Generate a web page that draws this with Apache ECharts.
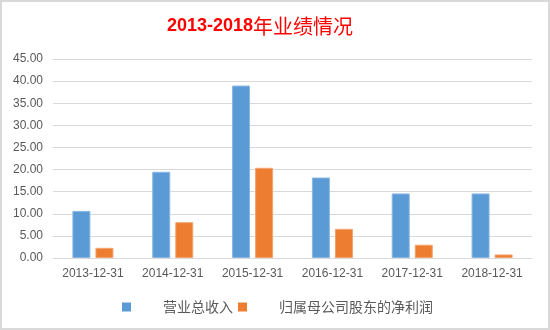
<!DOCTYPE html>
<html>
<head>
<meta charset="utf-8">
<script src="https://cdn.jsdelivr.net/npm/echarts@6/dist/echarts.min.js"></script>
<style>
html,body{margin:0;padding:0;background:#fff;}
#c{width:550px;height:330px;box-sizing:border-box;border:2px solid #d9d9d9;}
</style>
</head>
<body>
<div id="c"></div>
<script>
const categories = ['2013-12-31','2014-12-31','2015-12-31','2016-12-31','2017-12-31','2018-12-31'];
const revenue = [10.65, 19.5, 39.0, 18.2, 14.6, 14.6];
const netProfit = [2.3, 8.1, 20.4, 6.6, 3.0, 0.8];
const seriesNames = ['营业总收入','归属母公司股东的净利润'];
const yTicks = {min: 0, max: 45, interval: 5};

const chart = echarts.init(document.getElementById('c'));
chart.setOption({
  animation: false,
  title: {
    text: '{a|2013-2018}{b|年业绩情况}',
    left: 160, top: 9,
    textStyle: {
      rich: {
        a: {fontFamily: 'Liberation Sans, Noto Sans', fontWeight: 'bold', fontSize: 18, color: '#ff0000'},
        b: {fontFamily: 'Noto Sans CJK SC', fontWeight: 'normal', fontSize: 20, color: '#ff0000'}
      }
    }
  },
  legend: {
    left: 115, top: 293,
    itemWidth: 9, itemHeight: 9, itemGap: 5,
    icon: 'rect',
    itemStyle: {borderWidth: 0},
    textStyle: {fontFamily: 'Noto Sans CJK SC', fontSize: 14, color: '#595959', padding: [0,0,0,27]},
    data: seriesNames
  },
  grid: {left: 51, right: 16, top: 57, bottom: 70, containLabel: false},
  xAxis: {
    type: 'category',
    data: categories,
    axisTick: {show: false},
    axisLine: {lineStyle: {color: '#d9d9d9', width: 1}},
    axisLabel: {color: '#595959', fontSize: 12, fontFamily: 'Liberation Sans', margin: 10}
  },
  yAxis: {
    type: 'value',
    min: yTicks.min, max: yTicks.max, interval: yTicks.interval,
    axisLine: {show: false},
    axisTick: {show: false},
    splitLine: {lineStyle: {color: '#d9d9d9', width: 1}},
    axisLabel: {color: '#595959', fontSize: 12, fontFamily: 'Liberation Sans', margin: 10,
      formatter: v => v.toFixed(2)}
  },
  series: [
    {name: seriesNames[0], type: 'bar', data: revenue, barWidth: 18, barGap: '28%',
      itemStyle: {color: '#5b9bd5', borderColor: '#8ab8e3', borderWidth: 1}},
    {name: seriesNames[1], type: 'bar', data: netProfit, barWidth: 18, barGap: '28%',
      itemStyle: {color: '#ed7d31', borderColor: '#f3a46f', borderWidth: 1}}
  ]
});
</script>
</body>
</html>
